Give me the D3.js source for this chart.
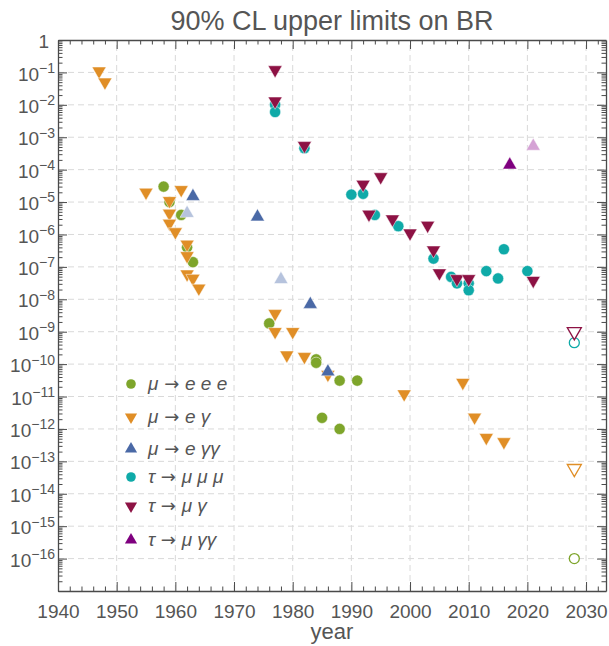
<!DOCTYPE html>
<html>
<head>
<meta charset="utf-8">
<script src="https://cdn.jsdelivr.net/npm/d3@7"></script>
<style>
  body { margin: 0; background: #fff; }
  svg text { font-family: "Liberation Sans", Arial, Helvetica, sans-serif; fill: #555; }
</style>
</head>
<body>
<svg id="chart" width="609" height="646"></svg>
<script>
// ---- data: [year, 90% CL upper limit on branching ratio] ----
const muEee = [[1958,3e-5],[1959,1e-5],[1961,4e-6],[1962,4e-7],[1963,1.4e-7],[1976,1.8e-9],
  [1984,1.4e-10],[1984,1.1e-10],[1985,2.2e-12],[1988,3.1e-11],[1988,1e-12],[1991,3.1e-11]];
const muEgamma = [[1947,0.11],[1948,0.05],[1955,2e-5],[1959,1.1e-5],[1961,2.4e-5],[1959,4.5e-6],
  [1959,2.2e-6],[1960,1.2e-6],[1962,5e-7],[1962,2.2e-7],[1962,6e-8],[1963,4.4e-8],[1964,2.2e-8],
  [1977,3.6e-9],[1977,1e-9],[1980,1e-9],[1979,1.9e-10],[1982,1.7e-10],[1986,4.8e-11],
  [1999,1.2e-11],[2009,2.7e-11],[2011,2.3e-12],[2013,5.4e-13],[2016,4.0e-13]];
const muEgg = [[1963,1.5e-5],[1974,3.5e-6],[1983,7e-9],[1986,5.8e-11]];
const muEggAlt = [[1962,4.5e-6],[1978,4.1e-8]];
const tauMmm = [[1977,1e-2],[1977,6e-3],[1982,4.6e-4],[1990,1.7e-5],[1992,1.8e-5],[1994,4e-6],
  [1998,1.8e-6],[2004,1.8e-7],[2007,4.9e-8],[2008,3.1e-8],[2010,3.1e-8],[2010,1.9e-8],
  [2013,7.4e-8],[2015,4.4e-8],[2016,3.5e-7],[2020,7.4e-8]];
const tauMgamma = [[1977,0.12],[1977,0.013],[1982,5.5e-4],[1992,3.5e-5],[1995,6e-5],[1993,4.2e-6],
  [1997,3e-6],[2000,1.1e-6],[2003,1.9e-6],[2004,3.3e-7],[2005,6.5e-8],[2008,4.3e-8],
  [2010,4.3e-8],[2021,3.8e-8]];
const tauMgg = [[2017,1.4e-4]];
const tauMggAlt = [[2021,5.3e-4]];
// projected future sensitivities
const muEeeFuture = [[2028,1e-16]];
const muEgammaFuture = [[2028,6e-14]];
const tauMmmFuture = [[2028,4.6e-10]];
const tauMgammaFuture = [[2028,1e-9]];

const xMajorTicks = [1940,1950,1960,1970,1980,1990,2000,2010,2020,2030];
const yExponents = d3.range(0, -18, -1);   // 10^0 ... 10^-17
const legendLabels = [
  ["μ", " → ", "e e e"],
  ["μ", " → ", "e γ"],
  ["μ", " → ", "e γγ"],
  ["τ", " → ", "μ μ μ"],
  ["τ", " → ", "μ γ"],
  ["τ", " → ", "μ γγ"]
];

// ---- styling ----
const C = {
  green: "#7ea52b", orange: "#e08e26", blue: "#4a69a6", teal: "#0faaa8",
  maroon: "#8d1244", purple: "#7f007f", lightBlue: "#b6c3dd", lightPurple: "#d5a2d5",
  frame: "#4a4a4a", grid: "#d9d9d9"
};

const W = 609, H = 646;
const m = { left: 58, right: 3, top: 40, bottom: 55 };
const svg = d3.select("#chart");

const x = d3.scaleLinear().domain([1940, 2033.4]).range([m.left, W - m.right]);
const y = d3.scaleLog().domain([1e-17, 1]).range([H - m.bottom, m.top]);
const [x0, x1] = x.range();
const [y0, y1] = y.range();

// grid
const grid = svg.append("g").attr("stroke", C.grid).attr("stroke-width", 1).attr("stroke-dasharray", "6,4");
grid.selectAll("line.gx").data(xMajorTicks.filter(t => t > 1940))
  .join("line").attr("x1", d => x(d)).attr("x2", d => x(d)).attr("y1", y0).attr("y2", y1);
grid.selectAll("line.gy").data(yExponents.filter(e => e < 0 && e > -17))
  .join("line").attr("y1", d => y(Math.pow(10, d))).attr("y2", d => y(Math.pow(10, d))).attr("x1", x0).attr("x2", x1);

// axes
const xMinor = d3.range(1940, 2034, 2).filter(t => t % 10 !== 0);
const yMajor = yExponents.map(e => Math.pow(10, e));
const yMinor = [];
for (let e = -17; e < 0; e++) for (let k = 2; k <= 9; k++) yMinor.push(k * Math.pow(10, e));

function styleAxis(g) {
  g.select(".domain").attr("stroke", C.frame).attr("stroke-width", 1.3);
  g.selectAll(".tick line").attr("stroke", C.frame).attr("stroke-width", 1);
}

const axisB = svg.append("g").attr("transform", `translate(0,${y0})`)
  .call(d3.axisBottom(x).tickValues(xMajorTicks).tickFormat(d3.format("d")).tickSizeInner(-9).tickSizeOuter(0).tickPadding(14));
styleAxis(axisB);
axisB.selectAll(".tick text").attr("font-size", 19).style("fill", "#555");
svg.append("g").attr("transform", `translate(0,${y0})`)
  .call(d3.axisBottom(x).tickValues(xMinor).tickFormat("").tickSizeInner(-4.5).tickSizeOuter(0))
  .call(g => { g.select(".domain").remove(); styleAxis(g); });

const axisT = svg.append("g").attr("transform", `translate(0,${y1})`)
  .call(d3.axisTop(x).tickValues(xMajorTicks).tickFormat("").tickSizeInner(-9).tickSizeOuter(0));
styleAxis(axisT);
svg.append("g").attr("transform", `translate(0,${y1})`)
  .call(d3.axisTop(x).tickValues(xMinor).tickFormat("").tickSizeInner(-4.5).tickSizeOuter(0))
  .call(g => { g.select(".domain").remove(); styleAxis(g); });

const axisL = svg.append("g").attr("transform", `translate(${x0},0)`)
  .call(d3.axisLeft(y).tickValues(yMajor).tickSizeInner(-9).tickSizeOuter(0).tickPadding(3).tickFormat(""));
styleAxis(axisL);
axisL.selectAll(".tick").each(function(d) {
  const e = Math.round(Math.log10(d));
  if (e === -17) return;
  const t = d3.select(this).append("text").attr("x", -3).attr("dy", "0.4em")
    .attr("text-anchor", "end").attr("font-size", 19).style("fill", "#555");
  if (e === 0) { t.attr("x", -9).text("1"); return; }
  t.append("tspan").text("10");
  t.append("tspan").attr("font-size", 14).attr("dy", "-0.55em").text("−" + (-e));
});
svg.append("g").attr("transform", `translate(${x0},0)`)
  .call(d3.axisLeft(y).tickValues(yMinor).tickFormat("").tickSizeInner(-4.5).tickSizeOuter(0))
  .call(g => { g.select(".domain").remove(); styleAxis(g); });

const axisR = svg.append("g").attr("transform", `translate(${x1},0)`)
  .call(d3.axisRight(y).tickValues(yMajor).tickFormat("").tickSizeInner(-9).tickSizeOuter(0));
styleAxis(axisR);
svg.append("g").attr("transform", `translate(${x1},0)`)
  .call(d3.axisRight(y).tickValues(yMinor).tickFormat("").tickSizeInner(-4.5).tickSizeOuter(0))
  .call(g => { g.select(".domain").remove(); styleAxis(g); });

// titles
svg.append("text").attr("x", (x0 + x1) / 2).attr("y", 30).attr("text-anchor", "middle")
  .attr("font-size", 27).text("90% CL upper limits on BR");
svg.append("text").attr("x", (x0 + x1) / 2).attr("y", 639).attr("text-anchor", "middle")
  .attr("font-size", 22).text("year");

// markers
const triSize = 86, circR = 5.6;
const triUp = d3.symbol().type(d3.symbolTriangle).size(triSize)();
function drawSeries(data, color, shape, open) {
  const g = svg.append("g");
  if (shape === "circle") {
    g.selectAll("circle").data(data).join("circle")
      .attr("cx", d => x(d[0])).attr("cy", d => y(d[1]))
      .attr("r", open ? circR - 0.6 : circR)
      .attr("fill", open ? "#fff" : color)
      .attr("stroke", open ? color : "#fff")
      .attr("stroke-width", open ? 1.3 : 0.5);
  } else {
    const rot = shape === "down" ? 180 : 0;
    g.selectAll("path").data(data).join("path")
      .attr("d", triUp)
      .attr("transform", d => `translate(${x(d[0])},${y(d[1])}) rotate(${rot})`)
      .attr("fill", open ? "#fff" : color)
      .attr("stroke", open ? color : "#fff")
      .attr("stroke-width", open ? 1.3 : 0.5)
      .attr("stroke-linejoin", "miter");
  }
}
drawSeries(muEee, C.green, "circle");
drawSeries(muEgamma, C.orange, "down");
drawSeries(muEggAlt, C.lightBlue, "up");
drawSeries(muEgg, C.blue, "up");
drawSeries(tauMmm, C.teal, "circle");
drawSeries(tauMgamma, C.maroon, "down");
drawSeries(tauMggAlt, C.lightPurple, "up");
drawSeries(tauMgg, C.purple, "up");
drawSeries(muEeeFuture, C.green, "circle", true);
drawSeries(muEgammaFuture, C.orange, "down", true);
drawSeries(tauMmmFuture, C.teal, "circle", true);
drawSeries(tauMgammaFuture, C.maroon, "down", true);

// legend
const legendItems = [
  [C.green, "circle"], [C.orange, "down"], [C.blue, "up"],
  [C.teal, "circle"], [C.maroon, "down"], [C.purple, "up"]
];
const legendRowY = [384, 417, 449, 477, 506, 540];
const lg = svg.append("g");
legendItems.forEach(([color, shape], i) => {
  const ly = legendRowY[i], lx = 131;
  if (shape === "circle") {
    lg.append("circle").attr("cx", lx).attr("cy", ly).attr("r", 4.8).attr("fill", color);
  } else {
    lg.append("path").attr("d", d3.symbol().type(d3.symbolTriangle).size(64)())
      .attr("transform", `translate(${lx},${ly}) rotate(${shape === "down" ? 180 : 0})`)
      .attr("fill", color);
  }
  const t = lg.append("text").attr("x", 148).attr("y", ly + 6).attr("font-size", 19);
  const [a, arrow, b] = legendLabels[i];
  t.append("tspan").attr("font-style", "italic").text(a);
  t.append("tspan").attr("font-family", "DejaVu Sans").attr("font-size", 18).text(arrow);
  t.append("tspan").attr("font-style", "italic").text(b);
});
</script>
</body>
</html>
